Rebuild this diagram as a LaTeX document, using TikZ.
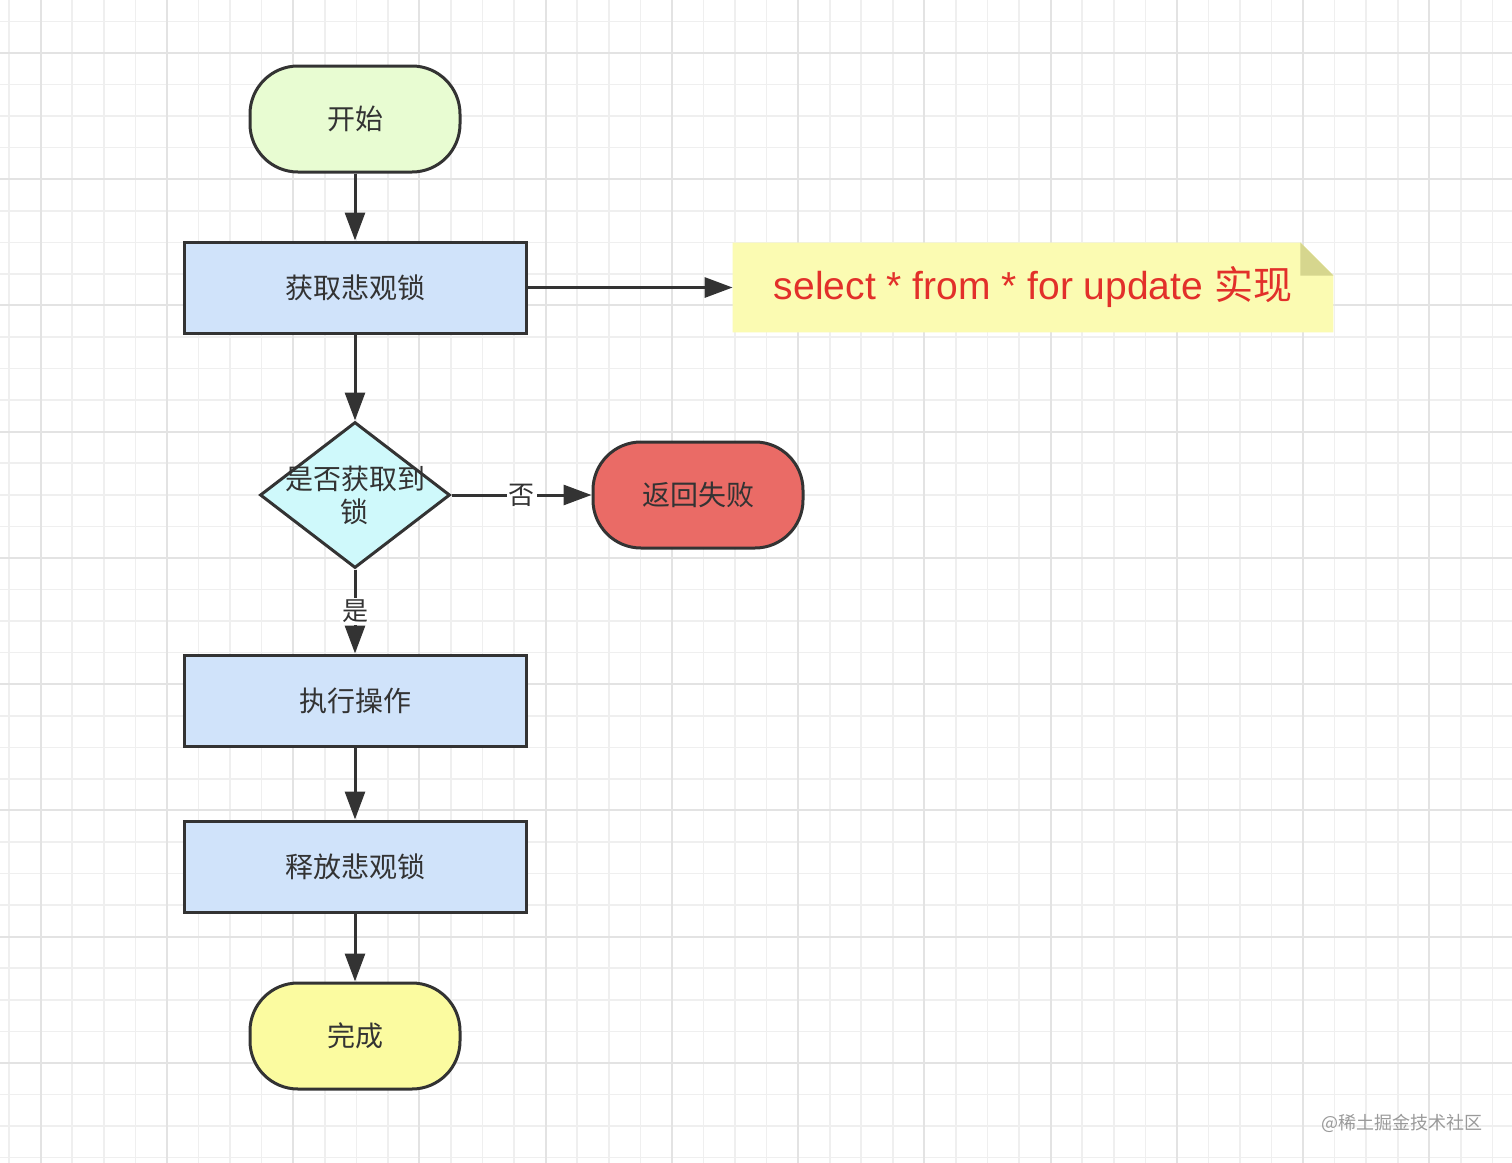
\documentclass[tikz,border=0pt]{standalone}
\usepackage{fontspec}
\setmainfont{Noto Sans CJK SC}
\newfontfamily\cjkfont{Noto Sans CJK SC}
\newfontfamily\latinfont{Liberation Sans}
\usetikzlibrary{arrows.meta,shapes.geometric}
\definecolor{linegray}{HTML}{333333}
\definecolor{gridminor}{HTML}{EFEFEF}
\definecolor{gridmajor}{HTML}{E3E3E3}
\definecolor{startgreen}{HTML}{E8FCD2}
\definecolor{boxblue}{HTML}{D0E3FA}
\definecolor{diamondcyan}{HTML}{CFF9FB}
\definecolor{failred}{HTML}{EA6B66}
\definecolor{doneyellow}{HTML}{FBFBA0}
\definecolor{notefill}{HTML}{FBFBB2}
\definecolor{foldfill}{HTML}{D6D68E}
\definecolor{notered}{HTML}{E2302A}
\definecolor{watermark}{HTML}{9A9A9A}
\begin{document}
\begin{tikzpicture}[x=0.5pt,y=-0.5pt,
  every node/.style={font=\fontsize{14pt}{16.5pt}\selectfont,text=linegray},
  terminal/.style={draw=linegray,line width=1.5pt,rounded corners=24pt,minimum width=105pt,minimum height=53pt},
  process/.style={draw=linegray,line width=1.5pt,fill=boxblue,minimum width=171pt,minimum height=45.5pt},
  decision/.style={diamond,draw=linegray,line width=1.5pt,fill=diamondcyan,minimum width=95pt,minimum height=73pt,inner sep=0pt},
  flow/.style={draw=linegray,line width=1.5pt,-{Triangle[length=14pt,width=10pt]}},
  flowlabel/.style={fill=white,inner sep=1pt,font=\fontsize{13pt}{15pt}\selectfont},
  minorline/.style={draw=gridminor,line width=0.8pt},
  majorline/.style={draw=gridmajor,line width=1pt}]
\useasboundingbox (0,0) rectangle (1512,1163);
\begin{scope}
\clip (0,0) rectangle (1512,1163);
\fill[white] (0,0) rectangle (1512,1163);
\foreach \k in {0,...,48} \draw[minorline] ({9.15+31.56*\k},0) -- ({9.15+31.56*\k},1163);
\foreach \k in {0,...,36} \draw[minorline] (0,{21.44+31.56*\k}) -- (1512,{21.44+31.56*\k});
\foreach \k in {0,...,11} \draw[majorline] ({40.7+126.24*\k},0) -- ({40.7+126.24*\k},1163);
\foreach \k in {0,...,8} \draw[majorline] (0,{53+126.24*\k}) -- (1512,{53+126.24*\k});
\end{scope}

\node[terminal,fill=startgreen] (start) at (355,119) {开始};
\node[process] (lock) at (355,287.5) {获取悲观锁};
\node[decision,label={[align=center]center:是否获取到\\锁}] (check) at (355,495) {};
\node[terminal,fill=failred] (fail) at (698,495) {返回失败};
\node[process] (work) at (355,700.5) {执行操作};
\node[process] (release) at (355,866.5) {释放悲观锁};
\node[terminal,fill=doneyellow] (done) at (355,1036) {完成};

% note
\node[minimum width=300pt,minimum height=44.5pt] (note) at (1033,287.5) {};
\fill[notefill] (note.south west) -- (note.north west) -- ([xshift=-16.5pt]note.north east)
  -- ([yshift=-16.5pt]note.north east) -- (note.south east) -- cycle;
\fill[foldfill] ([xshift=-16.5pt]note.north east) -- ([xshift=-16.5pt,yshift=-16.5pt]note.north east)
  -- ([yshift=-16.5pt]note.north east) -- cycle;
\node[font=\latinfont\fontsize{19.5pt}{22pt}\selectfont,text=notered] (notetext) at (note) {select * from * for update {\cjkfont 实现}};

\draw[flow] (start) -- (lock);
\draw[flow] (lock) -- (note);
\draw[flow] (lock) -- (check);
\draw[flow] (check) -- node[flowlabel]{否} (fail);
\draw[flow] (check) -- node[flowlabel]{是} (work);
\draw[flow] (work) -- (release);
\draw[flow] (release) -- (done);

\node[font=\fontsize{9pt}{10pt}\selectfont,text=watermark] (mark) at (1402,1123) {@稀土掘金技术社区};
\end{tikzpicture}
\end{document}
